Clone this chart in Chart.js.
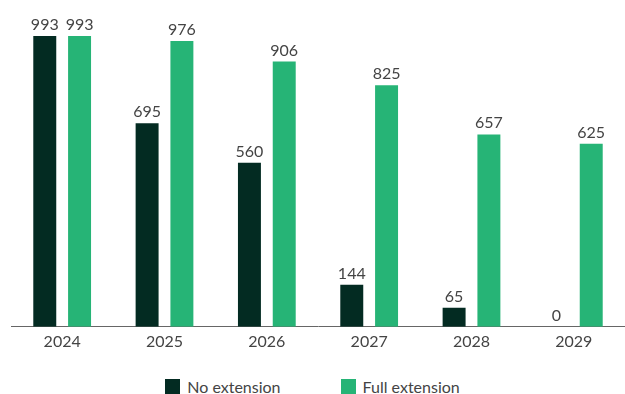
<!DOCTYPE html>
<html>
<head>
<meta charset="utf-8">
<script src="https://cdn.jsdelivr.net/npm/chart.js@4.4.1/dist/chart.umd.min.js"></script>
<style>
  html, body { margin: 0; padding: 0; background: #fff; }
  #wrap { width: 625px; height: 364px; position: relative; }
  #legend {
    display: flex; justify-content: center; gap: 60px;
    margin-top: 13px; font-family: Lato, sans-serif; font-size: 16px; color: #444;
  }
  #legend span.item { display: flex; align-items: center; }
  #legend span.box { display: inline-block; width: 15px; height: 15px; margin-right: 7px; }
</style>
</head>
<body>
<div id="wrap"><canvas id="chart"></canvas></div>
<div id="legend"></div>
<script>
var years = ['2024', '2025', '2026', '2027', '2028', '2029'];
var noExtension = [993, 695, 560, 144, 65, 0];
var fullExtension = [993, 976, 906, 825, 657, 625];
var seriesNames = ['No extension', 'Full extension'];
var colours = ['#032b22', '#26b476'];

// write the value above every bar
var valueLabels = {
    id: 'valueLabels',
    afterDatasetsDraw: function(chart) {
        var ctx = chart.ctx;
        ctx.save();
        ctx.font = '16px Lato, sans-serif';
        ctx.fillStyle = '#444';
        ctx.textAlign = 'center';
        ctx.textBaseline = 'alphabetic';
        chart.data.datasets.forEach(function(ds, i) {
            chart.getDatasetMeta(i).data.forEach(function(bar, j) {
                ctx.fillText(ds.data[j], bar.x, bar.y - 6);
            });
        });
        ctx.restore();
    }
};

var ctx = document.getElementById('chart').getContext('2d');
var chart = new Chart(ctx, {
    type: 'bar',
    data: {
        labels: years,
        datasets: [{
            label: seriesNames[0],
            data: noExtension,
            backgroundColor: colours[0]
        }, {
            label: seriesNames[1],
            data: fullExtension,
            backgroundColor: colours[1]
        }]
    },
    options: {
        responsive: true,
        maintainAspectRatio: false,
        animation: false,
        layout: { padding: { top: 34, left: 11, right: 0, bottom: 8 } },
        datasets: {
            bar: { categoryPercentage: 0.68, barPercentage: 0.66 }
        },
        plugins: {
            legend: { display: false },
            tooltip: { enabled: false }
        },
        scales: {
            x: {
                grid: { display: false, drawTicks: false },
                border: { display: true, color: '#666', width: 1 },
                ticks: { color: '#444', padding: 5, font: { family: 'Lato, sans-serif', size: 16 } }
            },
            y: {
                display: false,
                min: 0,
                max: 1000
            }
        }
    },
    plugins: [valueLabels]
});

var legend = document.getElementById('legend');
seriesNames.forEach(function(name, i) {
    var item = document.createElement('span');
    item.className = 'item';
    item.innerHTML = '<span class="box" style="background:' + colours[i] + '"></span>' + name;
    legend.appendChild(item);
});
</script>
</body>
</html>
